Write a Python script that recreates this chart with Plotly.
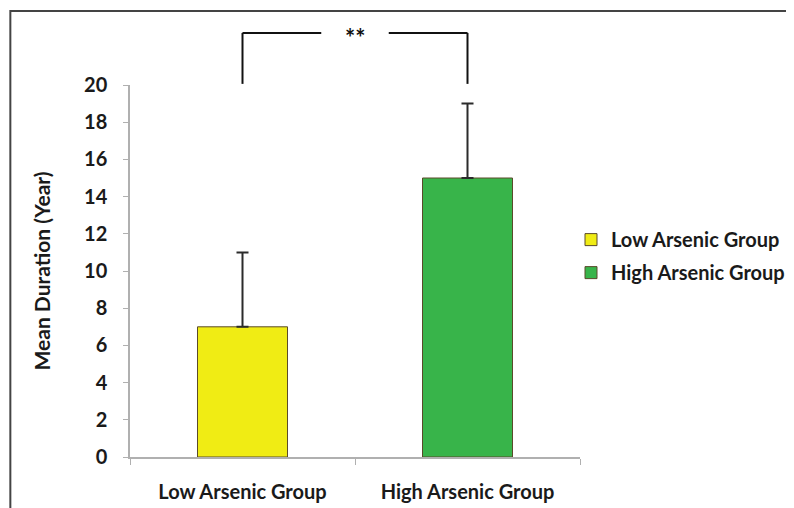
import plotly.graph_objects as go

categories = ["Low Arsenic Group", "High Arsenic Group"]
means = [7, 15]
sd_upper = [4, 4]
colors = ["#F0EC14", "#38B44A"]
y_ticks = [0, 2, 4, 6, 8, 10, 12, 14, 16, 18, 20]
sig_label = "**"

FONT = "Lato"
fig = go.Figure()
for i, cat in enumerate(categories):
    fig.add_trace(go.Bar(
        x=[cat], y=[means[i]], name=cat, legendgroup=cat,
        marker=dict(color=colors[i], line=dict(color="#5a4a2a", width=1)),
        error_y=dict(type="data", symmetric=False, array=[sd_upper[i]], arrayminus=[0],
                     color="#2b2b2b", thickness=2, width=6),
        width=0.4,
    ))

fig.update_layout(
    width=794, height=508,
    margin=dict(l=122, r=217, t=77, b=59),
    paper_bgcolor="white", plot_bgcolor="white",
    font=dict(family=FONT, color="#1a1a1a"),
    showlegend=True,
    legend=dict(x=0.98, y=0.54, xanchor="left", yanchor="middle",
                font=dict(family=FONT, size=20, color="#1a1a1a", weight="bold"),
                traceorder="grouped", tracegroupgap=4, itemwidth=30),
    bargap=0.6,
)
fig.update_xaxes(
    type="category", showgrid=False, showline=True, linecolor="#b0b0b0", linewidth=1.5,
    ticks="outside", tickson="boundaries", ticklen=6, tickcolor="#b0b0b0",
    ticklabelstandoff=16,
    tickfont=dict(family=FONT, size=20, color="#1a1a1a", weight="bold"),
    range=[-0.5, 1.5],
)
fig.update_yaxes(
    range=[0, 20], tickvals=y_ticks, showgrid=False, zeroline=False,
    showline=True, linecolor="#b0b0b0", linewidth=1.5,
    ticks="outside", ticklen=5, tickcolor="#b0b0b0",
    ticklabelstandoff=12,
    tickfont=dict(family=FONT, size=20, color="#1a1a1a", weight="bold"),
    title=dict(text="Mean Duration (Year)", standoff=28,
               font=dict(family=FONT, size=21, color="#1a1a1a", weight="bold")),
)

# significance bracket
bt, bb = 1.14, 1.003
line = dict(color="#111111", width=2)
fig.add_shape(type="line", xref="x", yref="paper", x0=0, x1=0, y0=bb, y1=bt, line=line)
fig.add_shape(type="line", xref="x", yref="paper", x0=1, x1=1, y0=bb, y1=bt, line=line)
fig.add_shape(type="line", xref="x", yref="paper", x0=0, x1=0.35, y0=bt, y1=bt, line=line)
fig.add_shape(type="line", xref="x", yref="paper", x0=0.65, x1=1, y0=bt, y1=bt, line=line)
fig.add_annotation(x=0.5, xref="x", y=bt, yref="paper", text=sig_label, showarrow=False,
                   yanchor="middle", xanchor="center",
                   font=dict(family=FONT, size=24, color="#111111", weight="bold"), yshift=-5)

# outer frame
fig.add_shape(type="rect", xref="paper", yref="paper", x0=-0.2659, x1=1.5, y0=-0.2, y1=1.199,
              line=dict(color="#444444", width=2), layer="below")

fig.write_html("out.html", config={"displayModeBar": False})
